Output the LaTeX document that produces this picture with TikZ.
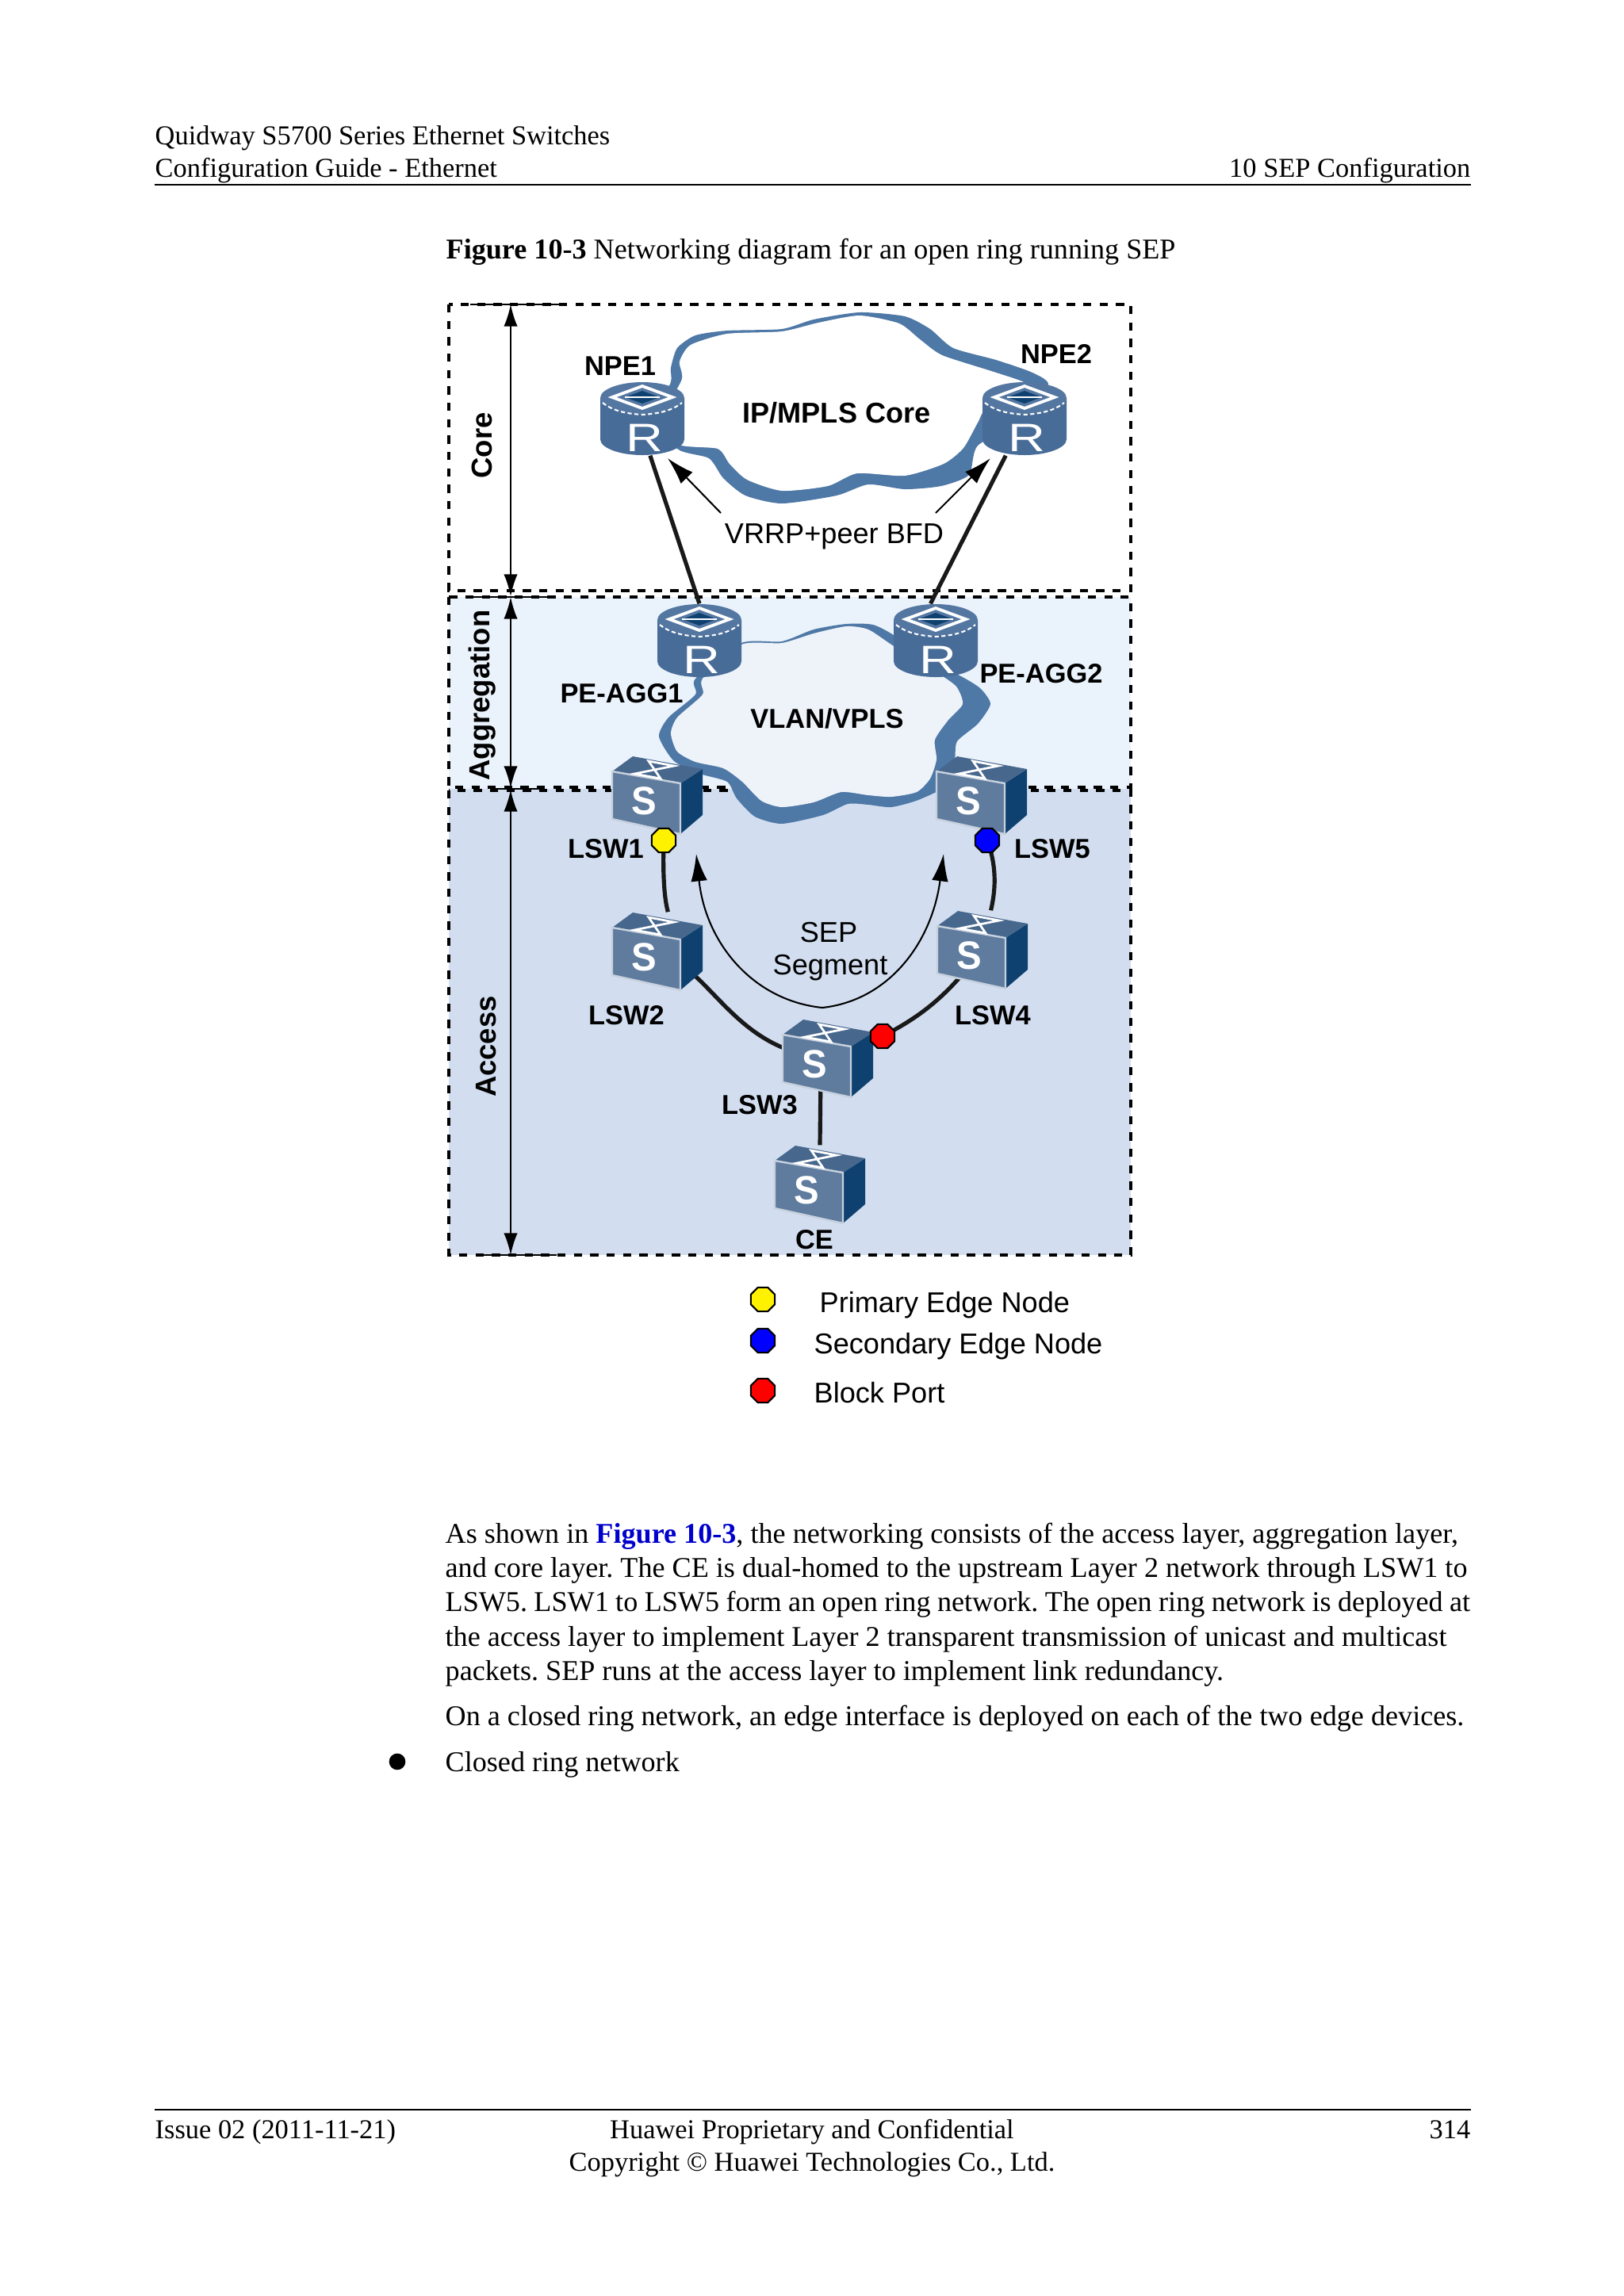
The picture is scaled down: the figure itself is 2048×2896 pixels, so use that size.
\documentclass[tikz,border=0pt]{standalone}
\usepackage{fontspec}
\setmainfont{Liberation Serif}
\setsansfont{Liberation Sans}
\usetikzlibrary{arrows.meta, backgrounds, shapes.geometric}
\definecolor{zoneagg}{HTML}{EAF2FB}
\definecolor{zoneacc}{HTML}{D2DEF0}
\definecolor{cloudedge}{HTML}{4E78A6}
\definecolor{cloudfill}{HTML}{EEF3FA}
\definecolor{routerbody}{HTML}{486C98}
\definecolor{routertop}{HTML}{5477A2}
\definecolor{switchfront}{HTML}{5F7C9E}
\definecolor{switchtop}{HTML}{47678D}
\definecolor{switchside}{HTML}{0F4170}
\definecolor{linkblue}{HTML}{0000CC}

\begin{document}
\frenchspacing
\begin{tikzpicture}[
	x=0.2905pt,
	y=-0.2905pt,
	>=Latex,
	font=\rmfamily\fontsize{10.5}{12.6}\selectfont,
	pagetext/.style={inner sep=0pt, anchor=base west},
	headtext/.style={pagetext, font=\rmfamily\fontsize{10}{12}\selectfont},
	bodytext/.style={pagetext, align=left},
	devlabel/.style={inner sep=0pt, font=\sffamily\bfseries\fontsize{10}{11}\selectfont},
	cloudlabel/.style={inner sep=0pt, font=\sffamily\bfseries\fontsize{10.5}{12}\selectfont},
	planelabel/.style={inner sep=0pt, rotate=90, font=\sffamily\bfseries\fontsize{10.6}{12}\selectfont},
	thinlabel/.style={inner sep=0pt, font=\sffamily\fontsize{10.5}{12}\selectfont},
	legendlabel/.style={thinlabel, anchor=west},
	frame/.style={draw=black, line width=0.95pt, dash pattern=on 3pt off 3pt},
	level/.style={<->, line width=0.6pt, >={Latex[length=8pt, width=5pt]}},
	tick/.style={line width=0.8pt},
	link/.style={line width=1.5pt, black!90},
	note/.style={->, line width=0.6pt, >={Latex[length=10pt, width=6pt]}},
	portdot/.style={draw=black, line width=0.6pt, regular polygon, regular polygon sides=8, inner sep=0pt, minimum size=9.5pt},
	routerbox/.style={inner sep=0pt, minimum width=30.8pt, minimum height=26.7pt},
	switchbox/.style={inner sep=0pt, minimum width=33pt, minimum height=28.5pt},
	router/.pic={
		\node[routerbox] (-box) at (0,0) {};
		\fill[routerbody] (-53,-26) -- (-53,26) .. controls (-53,37) and (-29,46) .. (0,46)
		.. controls (29,46) and (53,37) .. (53,26) -- (53,-26) -- cycle;
		\fill[routertop] (-53,-26) .. controls (-53,-37) and (-29,-46) .. (0,-46)
		.. controls (29,-46) and (53,-37) .. (53,-26)
		.. controls (53,-15) and (29,-6) .. (0,-6)
		.. controls (-29,-6) and (-53,-15) .. (-53,-26) -- cycle;
		\draw[white, line width=0.6pt, dash pattern=on 1.5pt off 1pt] (-50,-20) .. controls (-35,-8) and (-15,-6) .. (0,-5)
		.. controls (15,-6) and (35,-8) .. (50,-20);
		\draw[white, line width=1.1pt] (-38,-27) -- (0,-41) -- (38,-27) -- (0,-13) -- cycle;
		\fill[switchside] (-22,-27) -- (0,-35) -- (22,-27) -- (0,-19) -- cycle;
		\fill[white] (-22,-28) -- (22,-28) -- (22,-26) -- (-22,-26) -- cycle;
		\node[inner sep=0pt, text=white, transform shape, xscale=1.3, font=\sffamily\fontsize{14.5}{15}\selectfont] (-mark) at (3,24) {R};
	},
	switch/.pic={
		\node[switchbox] (-box) at (0,0) {};
		\fill[switchfront] (-57,-30) -- (29,-15) -- (29,49) -- (-57,30) -- cycle;
		\fill[switchside] (29,-15) -- (57,-33) -- (57,25) -- (29,49) -- cycle;
		\fill[switchtop] (-57,-30) -- (-31,-49) -- (57,-33) -- (29,-15) -- cycle;
		\draw[white!65!switchfront, line width=0.7pt] (-57,-30) -- (29,-15) -- (29,49) -- (-57,30) -- cycle;
		\draw[white, line width=0.8pt] (-11,-43) -- (21,-37) -- (-29,-27) -- (4,-21) -- cycle;
		\node[inner sep=0pt, text=white, transform shape, xscale=0.95, font=\sffamily\bfseries\fontsize{14.5}{15}\selectfont] (-mark) at (-17,7) {S};
	}
	]
	
	\useasboundingbox (0,0) rectangle (2048,2896);
	
	% --------------------------------------------------
	% Devices
	% --------------------------------------------------
	\pic (npe1) at (810,528) {router};
	\pic (npe2) at (1292,528) {router};
	\pic (agg1) at (882,808) {router};
	\pic (agg2) at (1180,808) {router};
	
	\pic (lsw1) at (829,1003) {switch};
	\pic (lsw5) at (1238,1003) {switch};
	\pic (lsw2) at (829,1200) {switch};
	\pic (lsw4) at (1239,1198) {switch};
	\pic (lsw3) at (1044,1335) {switch};
	\pic (ce) at (1034,1494) {switch};
	
	\node[portdot, fill=yellow] (lsw1dot) at (837,1060) {};
	\node[portdot, fill=blue] (lsw5dot) at (1245,1060) {};
	\node[portdot, fill=red] (lsw3dot) at (1113,1307) {};
	
	% --------------------------------------------------
	% Zones, clouds and links go under the devices
	% --------------------------------------------------
	\begin{scope}[on background layer]
		
		\fill[zoneagg] (566,753) rectangle (1426,995);
		\fill[zoneacc] (566,995) rectangle (1426,1583);
		\draw[frame] (566,384) rectangle (1426,745);
		\draw[frame] (566,753) rectangle (1426,993);
		\draw[frame] (566,997) rectangle (1426,1583);
		
		% core cloud
		\fill[cloudedge] plot[smooth cycle, tension=.4] coordinates {
			(846,482) (846,464) (854,439) (877,423) (917,417) (986,415) (1026,403)
			(1084,394) (1141,399) (1173,415) (1202,439) (1256,454) (1302,470) (1322,486)
			(1290,530) (1233,562) (1222,599) (1187,613) (1141,617) (1095,611) (1055,625)
			(986,635) (940,625) (912,603) (894,578) (854,566) (830,520)};
		\fill[white] plot[smooth cycle, tension=.4] coordinates {
			(860,478) (857,456) (871,435) (917,421) (986,418) (1032,407) (1084,398)
			(1134,408) (1160,428) (1188,448) (1250,468) (1291,482) (1291,492) (1245,513)
			(1233,533) (1215,565) (1190,585) (1141,600) (1081,597) (1044,613) (986,619)
			(942,605) (920,585) (905,566) (854,560) (840,520)};
		
		% aggregation cloud
		\fill[cloudedge] plot[smooth cycle, tension=.4] coordinates {
			(935,811) (986,809) (1026,794) (1067,787) (1101,788) (1130,803) (1180,840)
			(1210,852) (1236,868) (1249,888) (1233,913) (1207,935) (1204,958) (1195,990)
			(1158,1009) (1124,1018) (1095,1015) (1069,1014) (1038,1028) (986,1039) (952,1030)
			(929,1007) (917,986) (883,976) (850,960) (831,929) (843,905) (877,876) (877,856)};
		\fill[cloudfill] plot[smooth cycle, tension=.4] coordinates {
			(935,813) (986,811) (1026,799) (1067,790) (1095,794) (1127,815) (1181,848)
			(1206,866) (1214,888) (1196,908) (1179,933) (1181,958) (1173,982) (1156,999)
			(1124,1005) (1095,1003) (1061,999) (1026,1012) (986,1018) (960,1010) (936,986)
			(912,969) (877,961) (854,948) (846,925) (854,905) (886,876) (886,856)};
		
		% links
		\draw[link] (npe1-box.-78) -- (agg1-box.north);
		\draw[link] (npe2-box.-117) -- (agg2-box.98);
		\draw[link] (lsw1dot.center) .. controls (836,1100) and (837,1130) .. (lsw2-box.75);
		\draw[link] (lsw5dot.center) .. controls (1258,1095) and (1255,1125) .. (lsw4-box.78);
		\draw[link] (lsw2-box.center) .. controls (900,1225) and (925,1325) .. (lsw3-box.center);
		\draw[link] (lsw3dot.center) .. controls (1165,1280) and (1195,1255) .. (lsw4-box.center);
		\draw[link] (lsw3-box.-100 |- lsw3-box.center) -- (ce-box.north);
		
	\end{scope}
	
	% --------------------------------------------------
	% Layer scale on the left
	% --------------------------------------------------
	\coordinate (coretop) at (644,384);
	\coordinate (corebot) at (644,752);
	\coordinate (aggtop) at (644,753);
	\coordinate (aggbot) at (644,994);
	\coordinate (acctop) at (644,996);
	\coordinate (accbot) at (644,1583);
	
	\draw[level] (coretop) -- (corebot);
	\draw[level] (aggtop) -- (aggbot);
	\draw[level] (acctop) -- (accbot);
	
	\draw[tick] (593,384) -- (705,384);
	\draw[tick] (594,753) -- (692,753);
	\draw[tick] (622,995) -- (682,995);
	\draw[tick] (607,1583) -- (702,1583);
	
	\node[planelabel] (corelabel) at (608,562) {Core};
	\node[planelabel] (agglabel) at (608,877) {Aggregation};
	\node[planelabel] (acclabel) at (613,1320) {Access};
	
	% --------------------------------------------------
	% Device and cloud labels
	% --------------------------------------------------
	\node[devlabel] (npe1label) at (782,462) {NPE1};
	\node[devlabel] (npe2label) at (1332,446) {NPE2};
	\node[devlabel] (agg1label) at (784,875) {PE-AGG1};
	\node[devlabel] (agg2label) at (1313,850) {PE-AGG2};
	\node[devlabel] (lsw1label) at (764,1071) {LSW1};
	\node[devlabel] (lsw5label) at (1327,1071) {LSW5};
	\node[devlabel] (lsw2label) at (790,1281) {LSW2};
	\node[devlabel] (lsw4label) at (1252,1281) {LSW4};
	\node[devlabel] (lsw3label) at (958,1394) {LSW3};
	\node[devlabel] (celabel) at (1027,1564) {CE};
	
	\node[cloudlabel] (corecloud) at (1055,521) {IP/MPLS Core};
	\node[cloudlabel, font=\sffamily\bfseries\fontsize{10}{12}\selectfont] (aggcloud) at (1043,906) {VLAN/VPLS};
	
	% --------------------------------------------------
	% Notes with arrows
	% --------------------------------------------------
	\node[thinlabel] (vrrplabel) at (1052,677) {VRRP+peer BFD};
	\coordinate (vrrpleft) at (909,647);
	\coordinate (vrrpright) at (1180,647);
	\coordinate (npe1port) at (842,578);
	\coordinate (npe2port) at (1249,578);
	\draw[note] (vrrpleft) -- (npe1port);
	\draw[note] (vrrpright) -- (npe2port);
	
	\node[thinlabel] (seplabel) at (1045,1176) {SEP};
	\node[thinlabel] (seglabel) at (1047,1221) {Segment};
	\coordinate (sepbot) at (1037,1271);
	\coordinate (sepleft) at (878,1077);
	\coordinate (sepright) at (1190,1077);
	\draw[note] (sepbot) .. controls (950,1262) and (890,1190) .. (sepleft);
	\draw[note] (sepbot) .. controls (1120,1262) and (1175,1190) .. (sepright);
	
	% --------------------------------------------------
	% Legend
	% --------------------------------------------------
	\node[portdot, fill=yellow] (keyprimary) at (962,1639) {};
	\node[portdot, fill=blue] (keysecondary) at (962,1691) {};
	\node[portdot, fill=red] (keyblock) at (962,1754) {};
	\node[legendlabel] (primarylabel) at (1033,1646) {Primary Edge Node};
	\node[legendlabel] (secondarylabel) at (1026,1698) {Secondary Edge Node};
	\node[legendlabel] (blocklabel) at (1026,1757) {Block Port};
	
	% --------------------------------------------------
	% Page text
	% --------------------------------------------------
	\node[headtext] (headone) at (195,182) {Quidway S5700 Series Ethernet Switches};
	\node[headtext] (headtwo) at (195,223) {Configuration Guide - Ethernet};
	\node[headtext, anchor=base east] (headright) at (1855,223) {10 SEP Configuration};
	\draw[line width=0.7pt] (195,233) -- (1855,233);
	
	\node[pagetext] (caption) at (562,326) {\textbf{Figure 10-3} Networking diagram for an open ring running SEP};
	
	\node[bodytext] (paraone) at (561,1946) {As shown in \textcolor{linkblue}{\textbf{Figure 10-3}}, the networking consists of the access layer, aggregation layer,};
	\node[bodytext] (paratwo) at (561,1989) {and core layer. The CE is dual-homed to the upstream Layer 2 network through LSW1 to};
	\node[bodytext] (parathree) at (561,2032) {\spaceskip=2.44pt LSW5. LSW1 to LSW5 form an open ring network. The open ring network is deployed at};
	\node[bodytext] (parafour) at (561,2076) {the access layer to implement Layer 2 transparent transmission of unicast and multicast};
	\node[bodytext] (parafive) at (561,2119) {packets. SEP runs at the access layer to implement link redundancy.};
	\node[bodytext] (parasix) at (561,2176) {On a closed ring network, an edge interface is deployed on each of the two edge devices.};
	\node[draw, fill=black, circle, inner sep=0pt, minimum size=5.6pt] (bulletdot) at (501,2222) {};
	\node[bodytext] (bulletitem) at (561,2234) {Closed ring network};
	
	\draw[line width=0.5pt] (195,2661) -- (1855,2661);
	\node[headtext] (footleft) at (195,2697) {Issue 02 (2011-11-21)};
	\node[headtext, anchor=base] (footmid) at (1024,2697) {Huawei Proprietary and Confidential};
	\node[headtext, anchor=base] (footcopy) at (1024,2738) {Copyright © Huawei Technologies Co., Ltd.};
	\node[headtext, anchor=base east] (footright) at (1855,2697) {314};
	
\end{tikzpicture}
\end{document}
